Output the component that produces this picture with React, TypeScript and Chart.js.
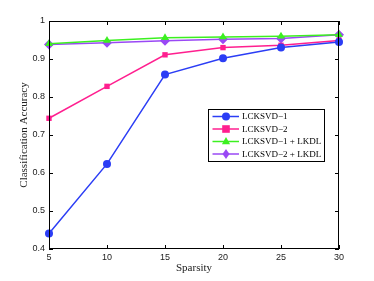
import React, { useEffect, useRef } from 'react';
import { Chart, registerables } from 'chart.js';

Chart.register(...registerables);

const sparsity = [5, 10, 15, 20, 25, 30];
const lcksvd1 = [0.441, 0.624, 0.859, 0.902, 0.930, 0.945];
const lcksvd2 = [0.744, 0.828, 0.911, 0.930, 0.936, 0.949];
const lcksvd1Lkdl = [0.940, 0.949, 0.956, 0.958, 0.960, 0.964];
const lcksvd2Lkdl = [0.938, 0.943, 0.948, 0.952, 0.954, 0.964];
const seriesLabels = ['LCKSVD\u22121', 'LCKSVD\u22122', 'LCKSVD\u22121 + LKDL', 'LCKSVD\u22122 + LKDL'];
const seriesColors = ['#2b3df5', '#ff1f8f', '#3cf020', '#9a48f5'];
const seriesStyles = ['circle', 'rect', 'triangle', 'rectRot'];
const seriesRadius = [4, 3.8, 4.5, 5];
const xTicks = [5, 10, 15, 20, 25, 30];
const yTicks = [0.4, 0.5, 0.6, 0.7, 0.8, 0.9, 1.0];

function drawMarker(ctx: CanvasRenderingContext2D, style: string, x: number, y: number, r: number) {
  ctx.beginPath();
  if (style === 'circle') {
    ctx.arc(x, y, r, 0, Math.PI * 2);
  } else if (style === 'rect') {
    ctx.rect(x - r, y - r, 2 * r, 2 * r);
  } else if (style === 'triangle') {
    ctx.moveTo(x, y - r);
    ctx.lineTo(x + r * 0.9, y + r * 0.6);
    ctx.lineTo(x - r * 0.9, y + r * 0.6);
    ctx.closePath();
  } else {
    ctx.moveTo(x, y - r);
    ctx.lineTo(x + r * 0.7, y);
    ctx.lineTo(x, y + r);
    ctx.lineTo(x - r * 0.7, y);
    ctx.closePath();
  }
  ctx.fill();
}

const framePlugin = {
  id: 'frame',
  afterDatasetsDraw(chart: any) {
    const { ctx, chartArea: a, scales } = chart;
    ctx.save();
    ctx.strokeStyle = '#000';
    ctx.lineWidth = 1;
    ctx.strokeRect(a.left + 0.5, a.top + 0.5, a.right - a.left - 1, a.bottom - a.top - 1);
    const tl = 4;
    ctx.beginPath();
    for (const v of xTicks) {
      const x = Math.round(scales.x.getPixelForValue(v)) + 0.5;
      ctx.moveTo(x, a.bottom); ctx.lineTo(x, a.bottom - tl);
      ctx.moveTo(x, a.top); ctx.lineTo(x, a.top + tl);
    }
    for (const v of yTicks) {
      const y = Math.round(scales.y.getPixelForValue(v)) + 0.5;
      ctx.moveTo(a.left, y); ctx.lineTo(a.left + tl, y);
      ctx.moveTo(a.right, y); ctx.lineTo(a.right - tl, y);
    }
    ctx.stroke();

    // legend box
    const bx = a.right - 131, by = a.top + 88, bw = 116, bh = 52;
    ctx.fillStyle = '#fff';
    ctx.fillRect(bx, by, bw, bh);
    ctx.strokeRect(bx + 0.5, by + 0.5, bw, bh);
    ctx.font = '9px "Liberation Serif", serif';
    ctx.textBaseline = 'middle';
    seriesLabels.forEach((lab, i) => {
      const y = by + 7.5 + i * 12.5;
      ctx.strokeStyle = seriesColors[i];
      ctx.lineWidth = 1.5;
      ctx.beginPath();
      ctx.moveTo(bx + 4.5, y); ctx.lineTo(bx + 31, y);
      ctx.stroke();
      ctx.fillStyle = seriesColors[i];
      drawMarker(ctx, seriesStyles[i], bx + 18, y, seriesRadius[i]);
      ctx.fillStyle = '#000';
      ctx.fillText(lab, bx + 34, y + 0.5);
    });
    ctx.restore();
  },
};

export default function App() {
  const ref = useRef<HTMLCanvasElement>(null);
  useEffect(() => {
    if (!ref.current) return;
    const series = [lcksvd1, lcksvd2, lcksvd1Lkdl, lcksvd2Lkdl];
    const chart = new Chart(ref.current, {
      type: 'line',
      data: {
        datasets: series.map((s, i) => ({
          label: seriesLabels[i],
          data: s.map((v, j) => ({ x: sparsity[j], y: v })),
          borderColor: seriesColors[i],
          backgroundColor: seriesColors[i],
          pointBackgroundColor: seriesColors[i],
          pointBorderColor: seriesColors[i],
          pointStyle: seriesStyles[i] as any,
          pointRadius: seriesRadius[i],
          borderWidth: 1.5,
          pointBorderWidth: 0,
          tension: 0,
          clip: false as any,
        })),
      },
      options: {
        animation: false,
        responsive: false,
        maintainAspectRatio: false,
        layout: { padding: { left: 0, top: 21, right: 35, bottom: 0 } },
        plugins: { legend: { display: false }, tooltip: { enabled: false } },
        scales: {
          x: {
            type: 'linear',
            min: 5,
            max: 30,
            afterFit: (s: any) => { s.height = 32; },
            afterBuildTicks: (s: any) => { s.ticks = xTicks.map((v) => ({ value: v })); },
            grid: { display: false, drawTicks: false },
            border: { display: false },
            ticks: { padding: 3, color: '#222', font: { family: '"Liberation Sans", Arial, sans-serif', size: 9 }, maxRotation: 0 },
            title: { display: true, text: 'Sparsity', color: '#222', padding: { top: 0, bottom: 6 }, font: { family: '"Liberation Serif", serif', size: 11 } },
          },
          y: {
            type: 'linear',
            min: 0.4,
            max: 1,
            afterFit: (s: any) => { s.width = 49; },
            afterBuildTicks: (s: any) => { s.ticks = yTicks.map((v) => ({ value: v })); },
            grid: { display: false, drawTicks: false },
            border: { display: false },
            ticks: {
              padding: 4,
              color: '#222',
              font: { family: '"Liberation Sans", Arial, sans-serif', size: 9 },
              callback: (v: any) => (Math.abs(v - 1) < 1e-9 ? '1' : Number(v).toFixed(1)),
            },
            title: { display: true, text: 'Classification Accuracy', color: '#222', padding: { top: 18, bottom: 0 }, font: { family: '"Liberation Serif", serif', size: 11 } },
          },
        },
      },
      plugins: [framePlugin],
    });
    return () => chart.destroy();
  }, []);
  return (
    <div style={{ position: 'fixed', left: 0, top: 0, width: 374, height: 281, background: '#fff' }}>
      <canvas ref={ref} width={374} height={281} style={{ width: 374, height: 281 }} />
    </div>
  );
}
